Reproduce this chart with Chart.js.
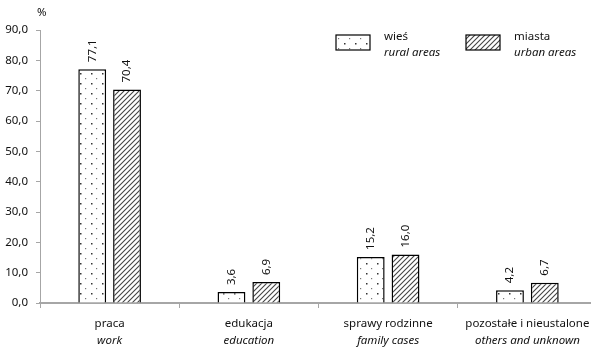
<!DOCTYPE html>
<html>
<head>
<meta charset="utf-8">
<script src="https://cdn.jsdelivr.net/npm/chart.js@4/dist/chart.umd.min.js"></script>
<style>
  html, body { margin: 0; padding: 0; background: #fff; overflow: hidden; }
  #wrap { width: 591px; height: 347px; overflow: hidden; }
</style>
</head>
<body>
<div id="wrap"><canvas id="chart" width="598" height="347"></canvas></div>
<script>
// data
const categoriesPl = ['praca', 'edukacja', 'sprawy rodzinne', 'pozostałe i nieustalone'];
const categoriesEn = ['work', 'education', 'family cases', 'others and unknown'];
const ruralValues = [77.1, 3.6, 15.2, 4.2];
const urbanValues = [70.4, 6.9, 16.0, 6.7];
const seriesPl = ['wieś', 'miasta'];
const seriesEn = ['rural areas', 'urban areas'];

const FONT = '"Noto Sans", "Open Sans", sans-serif';
const TEXT = '#111';
const AXIS = '#a6a6a6';

function fmt(v) { return v.toFixed(1).replace('.', ','); }

// fill patterns
function dotPattern() {
  const c = document.createElement('canvas');
  c.width = 11; c.height = 10;
  const g = c.getContext('2d');
  g.fillStyle = '#fff'; g.fillRect(0, 0, 11, 10);
  g.fillStyle = '#333';
  g.fillRect(3, 3, 1.5, 1.5);
  g.fillStyle = '#777';
  g.fillRect(8, 8, 1.2, 1.2);
  return g.createPattern(c, 'repeat');
}
function hatchPattern() {
  const c = document.createElement('canvas');
  c.width = 5; c.height = 5;
  const g = c.getContext('2d');
  g.fillStyle = '#fff'; g.fillRect(0, 0, 5, 5);
  g.strokeStyle = '#444'; g.lineWidth = 1.1;
  g.beginPath();
  g.moveTo(-1, 6); g.lineTo(6, -1);
  g.moveTo(-1, 1); g.lineTo(1, -1);
  g.moveTo(4, 6); g.lineTo(6, 4);
  g.stroke();
  return g.createPattern(c, 'repeat');
}
const fills = [dotPattern(), hatchPattern()];

const valueLabels = {
  id: 'valueLabels',
  afterDatasetsDraw(chart) {
    const ctx = chart.ctx;
    ctx.save();
    ctx.font = '11.5px ' + FONT;
    ctx.fillStyle = TEXT;
    ctx.textAlign = 'left';
    ctx.textBaseline = 'middle';
    chart.data.datasets.forEach((ds, i) => {
      chart.getDatasetMeta(i).data.forEach((bar, j) => {
        ctx.save();
        ctx.translate(bar.x, bar.y - 7);
        ctx.rotate(-Math.PI / 2);
        ctx.fillText(fmt(ds.data[j]), 0, 0);
        ctx.restore();
      });
    });
    ctx.restore();
  }
};

const extras = {
  id: 'extras',
  afterDraw(chart) {
    const ctx = chart.ctx;
    const x = chart.scales.x;
    ctx.save();
    ctx.fillStyle = TEXT;
    ctx.textBaseline = 'middle';
    // % unit
    ctx.font = '11.5px ' + FONT;
    ctx.textAlign = 'left';
    ctx.fillText('%', 37, 13);
    // category labels
    ctx.textAlign = 'center';
    categoriesPl.forEach((c, i) => {
      const px = x.getPixelForValue(i);
      ctx.font = '11.5px ' + FONT;
      ctx.fillText(c, px, 324);
      ctx.font = 'italic 11.5px ' + FONT;
      ctx.fillText(categoriesEn[i], px, 341);
    });
    // legend
    const boxes = [336, 466];
    ctx.textAlign = 'left';
    seriesPl.forEach((s, i) => {
      const bx = boxes[i];
      ctx.fillStyle = fills[i];
      ctx.fillRect(bx, 35, 34, 15);
      ctx.strokeStyle = '#000';
      ctx.lineWidth = 1.2;
      ctx.strokeRect(bx, 35, 34, 15);
      ctx.fillStyle = TEXT;
      ctx.font = '11.5px ' + FONT;
      ctx.fillText(s, bx + 48, 37);
      ctx.font = 'italic 11.5px ' + FONT;
      ctx.fillText(seriesEn[i], bx + 48, 53);
    });
    ctx.restore();
  }
};

new Chart(document.getElementById('chart'), {
  type: 'bar',
  data: {
    labels: categoriesPl,
    datasets: [
      { label: seriesPl[0], data: ruralValues, backgroundColor: fills[0], borderColor: '#000', borderWidth: 1.5 },
      { label: seriesPl[1], data: urbanValues, backgroundColor: fills[1], borderColor: '#000', borderWidth: 1.5 }
    ]
  },
  options: {
    responsive: false,
    animation: false,
    events: [],
    layout: { padding: { top: 30, right: 1, left: 0, bottom: 0 } },
    datasets: { bar: { categoryPercentage: 0.5, barPercentage: 0.8 } },
    plugins: { legend: { display: false }, tooltip: { enabled: false } },
    scales: {
      x: {
        ticks: { display: false },
        grid: { display: true, drawOnChartArea: false, tickLength: 5, color: AXIS, offset: true },
        border: { color: AXIS, width: 2 },
        afterFit(s) { s.height = 44; }
      },
      y: {
        min: 0, max: 90,
        ticks: { stepSize: 10, padding: 8, color: TEXT, font: { family: FONT, size: 11.5 }, callback: v => fmt(v) },
        grid: { display: true, drawOnChartArea: false, tickLength: 4, color: AXIS },
        border: { color: AXIS, width: 1 },
        afterFit(s) { s.width = 40; }
      }
    }
  },
  plugins: [valueLabels, extras]
});
</script>
</body>
</html>
